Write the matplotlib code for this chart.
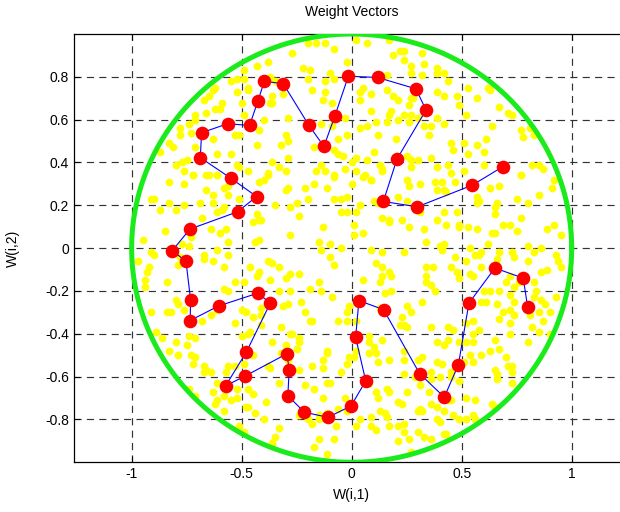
import numpy as np
import matplotlib
matplotlib.use("Agg")
import matplotlib.pyplot as plt

# node chain (1-D SOM weights), in order along the chain
node_x = [0.688, 0.548, 0.298, 0.144, 0.206, 0.338, 0.292, 0.118, -0.015, -0.077,
          -0.126, -0.194, -0.311, -0.397, -0.426, -0.464, -0.564, -0.682, -0.688, -0.550,
          -0.432, -0.518, -0.735, -0.815, -0.753, -0.732, -0.734, -0.605, -0.426, -0.370,
          -0.479, -0.573, -0.484, -0.294, -0.284, -0.290, -0.215, -0.108, -0.003, 0.064,
          0.018, 0.033, 0.145, 0.309, 0.421, 0.485, 0.533, 0.651, 0.780, 0.800]
node_y = [0.381, 0.294, 0.193, 0.218, 0.416, 0.645, 0.744, 0.797, 0.803, 0.615,
          0.475, 0.573, 0.768, 0.779, 0.687, 0.573, 0.581, 0.539, 0.423, 0.327,
          0.241, 0.170, 0.089, -0.011, -0.062, -0.242, -0.338, -0.270, -0.210, -0.257,
          -0.486, -0.643, -0.597, -0.493, -0.569, -0.689, -0.766, -0.790, -0.737, -0.620,
          -0.416, -0.245, -0.287, -0.586, -0.696, -0.545, -0.257, -0.093, -0.140, -0.276]

# input samples (yellow cloud)
samples = [
    (-0.20, 0.96), (-0.16, 0.96), (-0.12, 0.96), (-0.08, 0.93), (-0.27, 0.91), (-0.38, 0.87),
    (-0.43, 0.85), (-0.49, 0.83), (-0.55, 0.78), (-0.52, 0.79), (-0.49, 0.79), (-0.47, 0.75),
    (-0.47, 0.74), (-0.37, 0.80), (-0.35, 0.78), (-0.22, 0.84), (-0.19, 0.83), (-0.10, 0.82),
    (-0.12, 0.78), (-0.08, 0.79), (-0.02, 0.87), (-0.20, 0.79), (-0.18, 0.74), (-0.12, 0.73),
    (-0.62, 0.75), (-0.63, 0.74), (-0.52, 0.73), (-0.65, 0.71), (-0.67, 0.69), (-0.59, 0.68),
    (-0.62, 0.65), (-0.60, 0.65), (-0.66, 0.63), (-0.71, 0.62), (-0.71, 0.60), (-0.50, 0.68),
    (-0.37, 0.68), (-0.36, 0.68), (-0.36, 0.71), (-0.31, 0.72), (-0.29, 0.61), (-0.40, 0.60),
    (-0.49, 0.62), (-0.13, 0.69), (-0.09, 0.68), (-0.14, 0.58), (-0.03, 0.61), (-0.74, 0.58),
    (-0.78, 0.56), (-0.78, 0.53), (-0.73, 0.54), (-0.63, 0.51), (-0.53, 0.53), (-0.51, 0.53),
    (-0.42, 0.55), (-0.30, 0.53), (-0.29, 0.50), (-0.32, 0.48), (-0.43, 0.48), (-0.71, 0.47),
    (-0.81, 0.47), (-0.83, 0.49), (-0.87, 0.45), (-0.61, 0.44), (-0.55, 0.44), (-0.80, 0.39),
    (-0.77, 0.40), (-0.75, 0.41), (-0.76, 0.36), (-0.72, 0.34), (-0.66, 0.34), (-0.61, 0.34),
    (-0.52, 0.39), (-0.51, 0.38), (-0.47, 0.36), (-0.36, 0.40), (-0.33, 0.38), (-0.30, 0.36),
    (-0.38, 0.35), (-0.29, 0.42), (-0.09, 0.57), (-0.06, 0.51), (-0.02, 0.53), (-0.08, 0.46),
    (-0.06, 0.44), (-0.04, 0.43), (-0.17, 0.47), (-0.16, 0.36), (-0.14, 0.39), (-0.12, 0.36),
    (-0.08, 0.33), (-0.03, 0.37),
    (0.02, 0.97), (0.07, 0.96), (0.17, 0.97), (0.19, 0.90), (0.22, 0.92), (0.24, 0.92),
    (0.24, 0.88), (0.32, 0.91), (0.27, 0.85), (0.27, 0.82), (0.33, 0.86), (0.39, 0.84),
    (0.42, 0.82), (0.39, 0.82), (0.44, 0.78), (0.32, 0.81), (0.16, 0.81), (0.05, 0.75),
    (0.04, 0.73), (0.04, 0.69), (0.09, 0.72), (0.16, 0.74), (0.19, 0.71), (0.21, 0.69),
    (0.27, 0.70), (0.28, 0.70), (0.26, 0.67), (0.39, 0.73), (0.42, 0.71), (0.09, 0.64),
    (0.18, 0.64), (0.17, 0.62), (0.24, 0.62), (0.27, 0.62), (0.30, 0.61), (0.04, 0.56),
    (0.07, 0.57), (0.11, 0.59), (0.12, 0.53), (0.16, 0.59), (0.21, 0.60), (0.26, 0.59),
    (0.33, 0.57), (0.36, 0.57), (0.35, 0.53), (0.39, 0.61), (0.42, 0.58), (0.48, 0.71),
    (0.49, 0.67), (0.52, 0.62), (0.53, 0.75), (0.57, 0.70), (0.62, 0.75), (0.63, 0.74),
    (0.67, 0.66), (0.71, 0.63), (0.73, 0.62), (0.64, 0.57), (0.77, 0.55), (0.78, 0.52),
    (0.81, 0.56), (0.83, 0.53), (0.45, 0.49), (0.46, 0.46), (0.51, 0.49), (0.53, 0.44),
    (0.57, 0.48), (0.61, 0.51), (0.60, 0.45), (0.36, 0.42), (0.30, 0.41), (0.20, 0.51),
    (0.10, 0.45), (0.07, 0.41), (0.02, 0.42), (0.13, 0.39), (0.14, 0.37), (0.25, 0.43),
    (0.27, 0.41), (0.27, 0.38), (0.39, 0.38), (0.44, 0.39), (0.45, 0.35), (0.51, 0.36),
    (0.60, 0.39), (0.77, 0.34), (0.82, 0.39), (0.85, 0.39), (0.87, 0.37), (0.05, 0.33),
    (0.09, 0.32), (0.14, 0.36), (0.00, 0.40), (0.02, 0.36),
    (-0.83, 0.31), (-0.76, 0.30), (-0.72, 0.34), (-0.65, 0.34), (-0.61, 0.34), (-0.66, 0.27),
    (-0.63, 0.25), (-0.58, 0.28), (-0.56, 0.29), (-0.91, 0.23), (-0.90, 0.23), (-0.87, 0.18),
    (-0.83, 0.21), (-0.80, 0.18), (-0.76, 0.20), (-0.69, 0.21), (-0.63, 0.21), (-0.59, 0.18),
    (-0.58, 0.19), (-0.61, 0.17), (-0.56, 0.25), (-0.51, 0.23), (-0.42, 0.31), (-0.40, 0.32),
    (-0.38, 0.34), (-0.43, 0.16), (-0.45, 0.12), (-0.42, 0.13), (-0.41, 0.13), (-0.35, 0.20),
    (-0.28, 0.19), (-0.25, 0.21), (-0.20, 0.23), (-0.24, 0.15), (-0.30, 0.27), (-0.29, 0.28),
    (-0.21, 0.28), (-0.17, 0.30), (-0.11, 0.28), (-0.08, 0.34), (-0.08, 0.23), (-0.05, 0.23),
    (-0.02, 0.24), (-0.05, 0.17), (-0.02, 0.17), (0.00, 0.30), (-0.68, 0.14), (-0.64, 0.09),
    (-0.60, 0.07), (-0.57, 0.09), (-0.56, 0.03), (-0.85, 0.08), (-0.95, 0.04), (-0.73, 0.05),
    (-0.77, 0.02), (-0.74, 0.01), (-0.44, 0.03), (-0.42, 0.04), (-0.28, 0.06), (-0.13, 0.10),
    (-0.15, 0.03), (-0.10, 0.02), (-0.05, 0.00), (-0.91, -0.02), (-0.90, -0.03), (-0.78, -0.04),
    (-0.79, -0.08), (-0.67, -0.03), (-0.67, -0.05), (-0.63, -0.06), (-0.61, -0.01), (-0.56, -0.03),
    (-0.58, -0.09), (-0.97, -0.06), (-0.92, -0.09), (-0.93, -0.11), (-0.94, -0.15), (-0.94, -0.18),
    (-0.84, -0.16), (-0.46, -0.09), (-0.42, -0.11), (-0.43, -0.13), (-0.37, -0.15), (-0.49, -0.16),
    (-0.53, -0.16), (-0.56, -0.20), (-0.58, -0.19), (-0.38, -0.06), (-0.36, -0.07), (-0.33, -0.09),
    (-0.28, -0.12), (-0.24, -0.12), (-0.30, -0.14), (-0.14, -0.01), (-0.10, -0.04), (-0.08, -0.08),
    (-0.15, -0.16), (-0.14, -0.20), (-0.19, -0.19), (-0.09, -0.23), (-0.33, -0.20), (-0.28, -0.20),
    (-0.23, -0.25), (-0.21, -0.30), (-0.19, -0.34), (-0.31, -0.27), (-0.29, -0.26), (-0.80, -0.24),
    (-0.79, -0.26), (-0.84, -0.30), (-0.82, -0.30), (-0.91, -0.30), (-0.76, -0.29), (-0.68, -0.34),
    (-0.64, -0.31), (-0.61, -0.29), (-0.50, -0.29), (-0.48, -0.30), (-0.45, -0.32), (-0.41, -0.28),
    (-0.41, -0.31), (-0.53, -0.35), (-0.06, -0.34), (-0.02, -0.34), (-0.02, -0.30), (-0.01, -0.27),
    (0.06, 0.34), (0.09, 0.32), (0.25, 0.32), (0.26, 0.29), (0.31, 0.30), (0.38, 0.31),
    (0.41, 0.31), (0.47, 0.31), (0.43, 0.26), (0.39, 0.27), (0.42, 0.27), (0.21, 0.24),
    (0.25, 0.22), (0.10, 0.22), (0.12, 0.21), (0.63, 0.28), (0.67, 0.29), (0.77, 0.34),
    (0.57, 0.24), (0.58, 0.22), (0.57, 0.21), (0.66, 0.21), (0.65, 0.19), (0.75, 0.23),
    (0.80, 0.21), (0.85, 0.25), (0.92, 0.32), (0.91, 0.28), (0.04, 0.20), (0.02, 0.17),
    (0.14, 0.14), (0.17, 0.13), (0.17, 0.12), (0.23, 0.13), (0.26, 0.10), (0.31, 0.17),
    (0.33, 0.09), (0.39, 0.13), (0.42, 0.17), (0.43, 0.11), (0.48, 0.17), (0.49, 0.11),
    (0.49, 0.10), (0.01, 0.11), (0.01, 0.06), (0.05, 0.07), (0.53, 0.10), (0.57, 0.09),
    (0.65, 0.16), (0.69, 0.11), (0.72, 0.11), (0.75, 0.08), (0.77, 0.14), (0.65, 0.07),
    (0.64, 0.07), (0.89, 0.09), (0.92, 0.11), (0.95, 0.06), (0.34, 0.03), (0.40, 0.01),
    (0.42, 0.02), (0.09, -0.01), (0.14, -0.02), (0.24, -0.02), (0.11, -0.07), (0.14, -0.09),
    (0.17, -0.11), (0.14, -0.13), (0.18, -0.13), (0.13, -0.16), (0.05, -0.15), (0.34, -0.09),
    (0.37, -0.09), (0.34, -0.13), (0.45, -0.09), (0.47, -0.04), (0.48, -0.11), (0.49, -0.14),
    (0.41, -0.01), (0.54, 0.00), (0.56, -0.03), (0.59, -0.02), (0.58, -0.03), (0.62, 0.02),
    (0.67, -0.02), (0.66, -0.05), (0.52, -0.06), (0.59, -0.09), (0.55, -0.13), (0.54, -0.12),
    (0.73, -0.02), (0.74, -0.04), (0.80, -0.06), (0.83, -0.02), (0.80, 0.01), (0.86, 0.00),
    (0.72, -0.13), (0.70, -0.16), (0.74, -0.18), (0.76, -0.16), (0.83, -0.16), (0.86, -0.11),
    (0.89, -0.10), (0.93, -0.03), (0.94, -0.06), (0.95, -0.09), (0.60, -0.20), (0.63, -0.20),
    (0.67, -0.20), (0.72, -0.22), (0.59, -0.25), (0.61, -0.25), (0.66, -0.26), (0.74, -0.25),
    (0.84, -0.20), (0.83, -0.23), (0.88, -0.26), (0.86, -0.24), (0.93, -0.23), (0.34, -0.16),
    (0.36, -0.17), (0.38, -0.20), (0.18, -0.20), (0.15, -0.21), (0.25, -0.27), (0.27, -0.30),
    (0.32, -0.25), (0.23, -0.32), (0.13, -0.28), (0.02, -0.34), (0.67, -0.33), (0.69, -0.30),
    (0.72, -0.29), (0.74, -0.31), (0.81, -0.31), (0.85, -0.30), (0.87, -0.34), (0.90, -0.30),
    (0.55, -0.34), (0.52, -0.35),
    (-0.41, -0.36), (-0.32, -0.37), (-0.18, -0.34), (-0.50, -0.41), (-0.47, -0.40), (-0.46, -0.39),
    (-0.89, -0.39), (-0.86, -0.42), (-0.80, -0.44), (-0.75, -0.45), (-0.71, -0.42), (-0.74, -0.41),
    (-0.83, -0.48), (-0.79, -0.50), (-0.73, -0.50), (-0.71, -0.51), (-0.72, -0.54), (-0.67, -0.55),
    (-0.66, -0.57), (-0.67, -0.58), (-0.64, -0.58), (-0.56, -0.55), (-0.53, -0.55), (-0.57, -0.58),
    (-0.45, -0.50), (-0.49, -0.54), (-0.36, -0.44), (-0.28, -0.40), (-0.27, -0.40), (-0.24, -0.42),
    (-0.24, -0.44), (-0.25, -0.47), (-0.30, -0.45), (-0.32, -0.49), (-0.29, -0.52), (-0.37, -0.56),
    (-0.33, -0.63), (-0.38, -0.55), (-0.18, -0.55), (-0.13, -0.52), (-0.13, -0.56), (-0.11, -0.48),
    (-0.11, -0.49), (-0.05, -0.58), (-0.02, -0.54), (-0.01, -0.51), (-0.24, -0.57), (-0.21, -0.64),
    (-0.17, -0.66), (-0.11, -0.63), (-0.10, -0.63), (-0.13, -0.70), (-0.03, -0.70), (-0.06, -0.75),
    (-0.02, -0.76), (-0.61, -0.63), (-0.63, -0.67), (-0.61, -0.71), (-0.62, -0.73), (-0.58, -0.69),
    (-0.55, -0.71), (-0.52, -0.70), (-0.52, -0.66), (-0.58, -0.76), (-0.74, -0.66), (-0.71, -0.69),
    (-0.47, -0.66), (-0.45, -0.68), (-0.48, -0.74), (-0.47, -0.74), (-0.44, -0.77), (-0.39, -0.72),
    (-0.40, -0.80), (-0.33, -0.84), (-0.35, -0.88), (-0.36, -0.91), (-0.51, -0.83), (-0.49, -0.86),
    (-0.24, -0.78), (-0.20, -0.80), (-0.18, -0.82), (-0.15, -0.78), (-0.15, -0.80), (-0.11, -0.77),
    (-0.07, -0.83), (-0.15, -0.89), (-0.17, -0.93), (-0.08, -0.89), (-0.11, -0.96),
    (0.22, -0.36), (0.24, -0.36), (0.25, -0.37), (0.36, -0.37), (0.44, -0.37), (0.46, -0.38),
    (0.58, -0.38), (0.72, -0.35), (0.82, -0.37), (0.85, -0.39), (0.90, -0.40), (0.08, -0.41),
    (0.08, -0.44), (0.10, -0.46), (0.14, -0.43), (0.39, -0.44), (0.42, -0.45), (0.44, -0.43),
    (0.49, -0.44), (0.52, -0.44), (0.55, -0.44), (0.55, -0.40), (0.72, -0.40), (0.65, -0.43),
    (0.80, -0.44), (0.02, -0.48), (0.01, -0.51), (0.08, -0.49), (0.11, -0.49), (0.12, -0.53),
    (0.17, -0.52), (0.24, -0.52), (0.24, -0.48), (0.30, -0.52), (0.32, -0.51), (0.36, -0.58),
    (0.39, -0.53), (0.41, -0.54), (0.45, -0.58), (0.49, -0.62), (0.51, -0.53), (0.54, -0.50),
    (0.55, -0.53), (0.59, -0.50), (0.63, -0.48), (0.67, -0.47), (0.70, -0.51), (0.73, -0.55),
    (0.71, -0.55), (0.65, -0.57), (0.66, -0.59), (0.66, -0.61), (0.73, -0.58), (0.73, -0.63),
    (0.24, -0.59), (0.29, -0.60), (0.36, -0.61), (0.40, -0.60), (0.45, -0.60), (0.08, -0.63),
    (0.16, -0.66), (0.17, -0.67), (0.12, -0.70), (0.11, -0.67), (0.25, -0.67), (0.31, -0.64),
    (0.35, -0.67), (0.36, -0.73), (0.39, -0.74), (0.42, -0.76), (0.44, -0.71), (0.45, -0.71),
    (0.52, -0.70), (0.56, -0.71), (0.21, -0.72), (0.23, -0.73), (0.13, -0.76), (0.15, -0.77),
    (0.16, -0.79), (0.30, -0.76), (0.31, -0.75), (0.32, -0.76), (0.24, -0.82), (0.04, -0.80),
    (0.09, -0.79), (0.02, -0.83), (0.09, -0.83), (0.11, -0.85), (0.17, -0.83), (0.21, -0.83),
    (0.39, -0.80), (0.40, -0.81), (0.46, -0.78), (0.49, -0.80), (0.52, -0.80), (0.55, -0.78),
    (0.64, -0.73), (0.65, -0.74), (0.56, -0.80), (0.24, -0.86), (0.26, -0.89), (0.21, -0.90),
    (0.30, -0.86), (0.33, -0.88), (0.36, -0.89), (0.42, -0.87), (0.43, -0.87), (0.27, -0.95),
]

circle_angle = np.linspace(0, 2 * np.pi, 200)

x_ticks = [-1, -0.5, 0, 0.5, 1]
x_tick_labels = ['-1', '-0.5', '0', '0.5', '1']
y_ticks = [-0.8, -0.6, -0.4, -0.2, 0, 0.2, 0.4, 0.6, 0.8]
y_tick_labels = ['-0.8', '-0.6', '-0.4', '-0.2', '0', '0.2', '0.4', '0.6', '0.8']

plt.rcParams['font.family'] = ['Liberation Sans', 'DejaVu Sans']

fig = plt.figure(figsize=(6.2, 5.12), dpi=100)
ax = fig.add_axes([74 / 620, 1 - 462.3 / 512, (629.3 - 74) / 620, (462.3 - 34) / 512])

pts = np.array(samples)
ax.plot(pts[:, 0], pts[:, 1], 'o', color='#ffff00', markersize=5.6, markeredgewidth=0, zorder=2)
ax.plot(np.cos(circle_angle), np.sin(circle_angle), color='#1aeb1a', linewidth=3.6, zorder=3)
ax.plot(node_x, node_y, '-', color='#0000ff', linewidth=0.8, zorder=4)
ax.plot(node_x, node_y, 'o', color='#ff0000', markersize=9.8, markeredgewidth=0, zorder=5)

ax.set_xlim(-1.262, 1.262)
ax.set_ylim(-1, 1)
ax.set_xticks(x_ticks)
ax.set_xticklabels(x_tick_labels)
ax.set_yticks(y_ticks)
ax.set_yticklabels(y_tick_labels)
ax.tick_params(direction='in', length=4, labelsize=10, colors='black', top=True, right=True)
ax.grid(True, color='#333333', linestyle=(0, (6, 4.5)), linewidth=0.85)
ax.set_axisbelow(True)
for s in ax.spines.values():
    s.set_linewidth(0.9)

ax.set_title('Weight Vectors', fontsize=10, pad=13)
ax.set_xlabel('W(i,1)', fontsize=10, labelpad=5)
ax.set_ylabel('W(i,2)', fontsize=10, labelpad=18)

fig.savefig('out.png', dpi=100)
